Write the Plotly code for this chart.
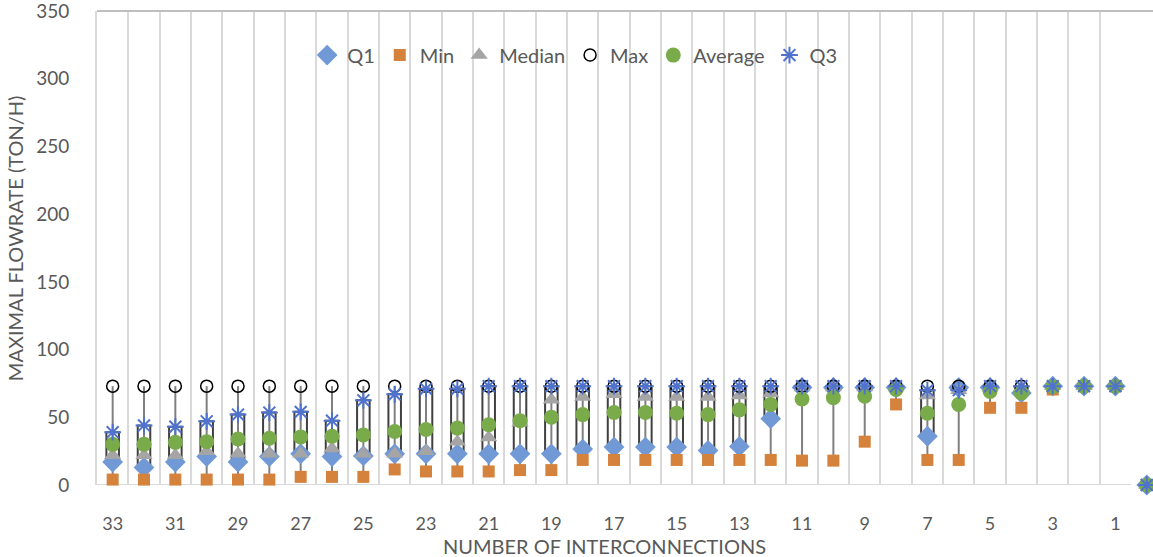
import plotly.graph_objects as go

categories = [33, 32, 31, 30, 29, 28, 27, 26, 25, 24, 23, 22, 21, 20, 19, 18, 17,
              16, 15, 14, 13, 12, 11, 10, 9, 8, 7, 6, 5, 4, 3, 2, 1, 0]
q1 = [17, 13, 17, 21, 17, 21, 23, 21, 21.5, 23, 23, 23, 23, 23, 23, 26.5, 28,
      28, 28, 25.5, 28.5, 49, 72, 72, 72, 72, 36, 72, 72, 68, 73, 73, 73, 0]
mins = [4, 4, 4, 4, 4, 4, 6, 6, 6, 11.5, 10, 10, 10, 11, 11, 18.5, 18.5,
        18.5, 18.5, 18.5, 18.5, 18.5, 18, 18, 32, 59.5, 18.5, 18.5, 57, 57, 70.5, 73, 73, 0]
median = [22, 22, 22, 25, 23, 23, 23, 27, 23, 23, 25, 32, 35, 46, 63, 65, 67,
          65, 65, 65, 66, 67.5, 72, 72, 72, 72, 66, 70, 72, 72, 73, 73, 73, 0]
maxs = [73] * 33 + [0]
average = [30, 30, 31.5, 32, 34, 34.5, 35.5, 36, 37, 39.5, 41, 42, 44.5, 47.5, 50, 52, 53.5,
           53.5, 53, 52, 55.5, 59.5, 63.5, 64.5, 65.5, 70.5, 53, 59.5, 69, 68, 72.5, 73, 73, 0]
q3 = [39, 44, 43, 47, 52, 53.5, 54, 47.5, 62.5, 67, 71, 71, 73, 73, 73, 73, 73,
      73, 73, 73, 73, 73, 73, 73, 73, 73, 70, 70, 73, 73, 73, 73, 73, 0]
x_tick_labels = [str(v) for v in range(33, 0, -2)]
y_tick_values = [0, 50, 100, 150, 200, 250, 300, 350]

FONT = "Lato, Calibri, 'Open Sans', sans-serif"
TXT = "#595959"

fig = go.Figure()

# up-down bars (Q1 -> Q3)
fig.add_trace(go.Bar(
    x=categories, y=[b - a for a, b in zip(q1, q3)], base=q1, width=0.4,
    marker=dict(color="rgba(255,255,255,0)", line=dict(color="#404040", width=2)),
    showlegend=False, hoverinfo="skip", cliponaxis=False))

# high-low lines (Min -> Max)
hl_x, hl_y = [], []
for c, lo, hi in zip(categories, mins, maxs):
    hl_x += [c, c, None]
    hl_y += [lo, hi, None]
fig.add_trace(go.Scatter(x=hl_x, y=hl_y, mode="lines",
                         line=dict(color="#808080", width=2),
                         showlegend=False, hoverinfo="skip", cliponaxis=False))

series = [
    ("Q1", q1, dict(symbol="diamond", size=16, color="#7199D6")),
    ("Min", mins, dict(symbol="square", size=12, color="#D4823C")),
    ("Median", median, dict(symbol="triangle-up", size=15, color="#A5A5A5")),
    ("Max", maxs, dict(symbol="circle-open", size=12, color="#000000",
                       line=dict(color="#000000", width=1.5))),
    ("Average", average, dict(symbol="circle", size=15, color="#79AB4A")),
    ("Q3", q3, dict(symbol="asterisk-open", size=14, color="#4F72CC",
                    line=dict(color="#4F72CC", width=2))),
]
for name, vals, mk in series:
    fig.add_trace(go.Scatter(x=categories, y=vals, mode="markers", name=name,
                             marker=mk, cliponaxis=False))

grid_vals = [c + 0.5 for c in categories[:-1]]
first_edge = categories[0] + 0.5
last_edge = categories[-2] - 0.5

fig.update_layout(
    width=1153, height=557,
    margin=dict(l=97, r=0, t=11, b=72),
    paper_bgcolor="white", plot_bgcolor="white",
    font=dict(family=FONT, color=TXT, size=18),
    barmode="overlay",
    showlegend=True,
    legend=dict(orientation="h", x=0.199, y=0.907, xanchor="left", yanchor="middle",
                bgcolor="rgba(0,0,0,0)", font=dict(size=20, color=TXT),
                itemwidth=30),
    xaxis=dict(
        range=[first_edge, -0.2], tickmode="array",
        tickvals=[int(v) for v in x_tick_labels], ticktext=x_tick_labels,
        showgrid=False, zeroline=False, showline=False, automargin=False,
        ticks="outside", ticklen=22, tickcolor="rgba(0,0,0,0)",
        tickfont=dict(size=18, color=TXT),
        minor=dict(tickvals=grid_vals, showgrid=True, gridcolor="#D9D9D9", gridwidth=2,
                   ticks=""),
    ),
    yaxis=dict(
        range=[0, 350], tickmode="array", tickvals=y_tick_values,
        ticktext=[str(v) for v in y_tick_values], ticklabeloverflow="allow",
        showgrid=False, zeroline=False, automargin=False,
        showline=True, linecolor="#D9D9D9", linewidth=2,
        ticks="outside", ticklen=22, tickcolor="rgba(0,0,0,0)",
        tickfont=dict(size=19, color=TXT),
    ),
    shapes=[
        dict(type="line", xref="paper", yref="paper", x0=0, x1=1, y0=1, y1=1,
             line=dict(color="#BFBFBF", width=2)),
        dict(type="line", xref="x", yref="y", x0=first_edge, x1=last_edge, y0=0, y1=0,
             line=dict(color="#D9D9D9", width=2), layer="below"),
    ],
    annotations=[
        dict(text="NUMBER OF INTERCONNECTIONS", xref="paper", yref="paper",
             x=(604 - 97) / 1056, y=-0.128, xanchor="center", yanchor="middle",
             showarrow=False, font=dict(size=20, color=TXT)),
        dict(text="MAXIMAL FLOWRATE (TON/H)", xref="paper", yref="paper",
             x=-0.0775, y=(485 - 238) / 474, xanchor="center", yanchor="middle",
             textangle=-90, showarrow=False, font=dict(size=20, color=TXT)),
    ],
)

fig.write_html("out.html", config={"displayModeBar": False},
               post_script="document.body.style.margin='0';document.body.style.overflow='hidden';")
